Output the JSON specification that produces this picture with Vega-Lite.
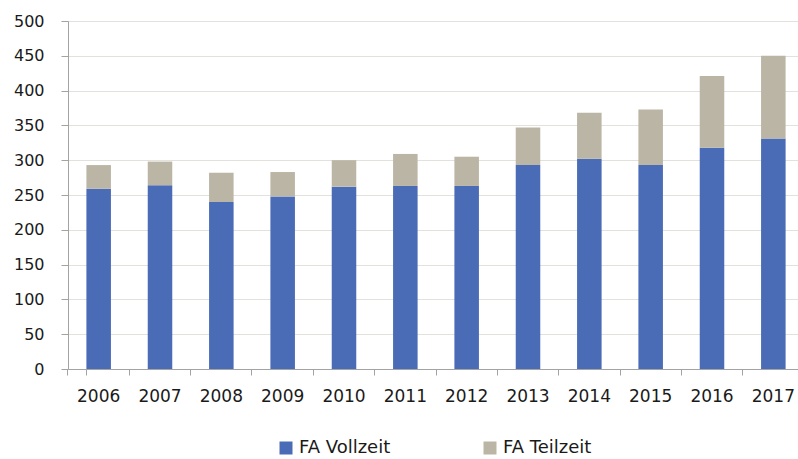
{
  "$schema": "https://vega.github.io/schema/vega-lite/v6.json",
  "width": 730,
  "height": 348,
  "autosize": "none",
  "padding": {"left": 68, "top": 21, "right": 0, "bottom": 90},
  "config": {
    "font": "DejaVu Sans",
    "view": {"stroke": null},
    "axis": {"labelColor": "#1a1a1a", "domainColor": "#a3a3a3", "tickColor": "#a3a3a3", "title": null}
  },
  "data": {
    "values": [
      {"jahr": "2006", "serie": "FA Vollzeit", "wert": 259},
      {"jahr": "2006", "serie": "FA Teilzeit", "wert": 34},
      {"jahr": "2007", "serie": "FA Vollzeit", "wert": 264},
      {"jahr": "2007", "serie": "FA Teilzeit", "wert": 34},
      {"jahr": "2008", "serie": "FA Vollzeit", "wert": 240},
      {"jahr": "2008", "serie": "FA Teilzeit", "wert": 42},
      {"jahr": "2009", "serie": "FA Vollzeit", "wert": 248},
      {"jahr": "2009", "serie": "FA Teilzeit", "wert": 35},
      {"jahr": "2010", "serie": "FA Vollzeit", "wert": 262},
      {"jahr": "2010", "serie": "FA Teilzeit", "wert": 38},
      {"jahr": "2011", "serie": "FA Vollzeit", "wert": 263},
      {"jahr": "2011", "serie": "FA Teilzeit", "wert": 46},
      {"jahr": "2012", "serie": "FA Vollzeit", "wert": 263},
      {"jahr": "2012", "serie": "FA Teilzeit", "wert": 42},
      {"jahr": "2013", "serie": "FA Vollzeit", "wert": 293},
      {"jahr": "2013", "serie": "FA Teilzeit", "wert": 54},
      {"jahr": "2014", "serie": "FA Vollzeit", "wert": 302},
      {"jahr": "2014", "serie": "FA Teilzeit", "wert": 66},
      {"jahr": "2015", "serie": "FA Vollzeit", "wert": 293},
      {"jahr": "2015", "serie": "FA Teilzeit", "wert": 80},
      {"jahr": "2016", "serie": "FA Vollzeit", "wert": 318},
      {"jahr": "2016", "serie": "FA Teilzeit", "wert": 103},
      {"jahr": "2017", "serie": "FA Vollzeit", "wert": 331},
      {"jahr": "2017", "serie": "FA Teilzeit", "wert": 119}
    ]
  },
  "mark": {"type": "bar"},
  "encoding": {
    "x": {
      "field": "jahr",
      "type": "ordinal",
      "scale": {"range": [0, 736], "paddingInner": 0.6, "paddingOuter": 0.3},
      "axis": {
        "labelAngle": 0,
        "labelFontSize": 17,
        "labelPadding": 13,
        "tickSize": 6,
        "bandPosition": -0.75,
        "tickExtra": true,
        "grid": false
      }
    },
    "y": {
      "field": "wert",
      "type": "quantitative",
      "stack": "zero",
      "scale": {"domain": [0, 500], "nice": false},
      "axis": {
        "values": [0, 50, 100, 150, 200, 250, 300, 350, 400, 450, 500],
        "labelFontSize": 16,
        "labelPadding": 17,
        "tickSize": 7,
        "grid": true,
        "gridColor": "#e3e1db",
        "gridWidth": 1
      }
    },
    "color": {
      "field": "serie",
      "type": "nominal",
      "scale": {"domain": ["FA Vollzeit", "FA Teilzeit"], "range": ["#4a6bb6", "#bbb5a5"]},
      "legend": {
        "title": null,
        "orient": "none",
        "direction": "horizontal",
        "legendX": 209,
        "legendY": 418,
        "symbolType": "square",
        "symbolSize": 169,
        "symbolStrokeWidth": 0,
        "labelFontSize": 18,
        "labelColor": "#1a1a1a",
        "columnPadding": 90
      }
    },
    "order": {"field": "serie", "sort": "descending"}
  }
}
